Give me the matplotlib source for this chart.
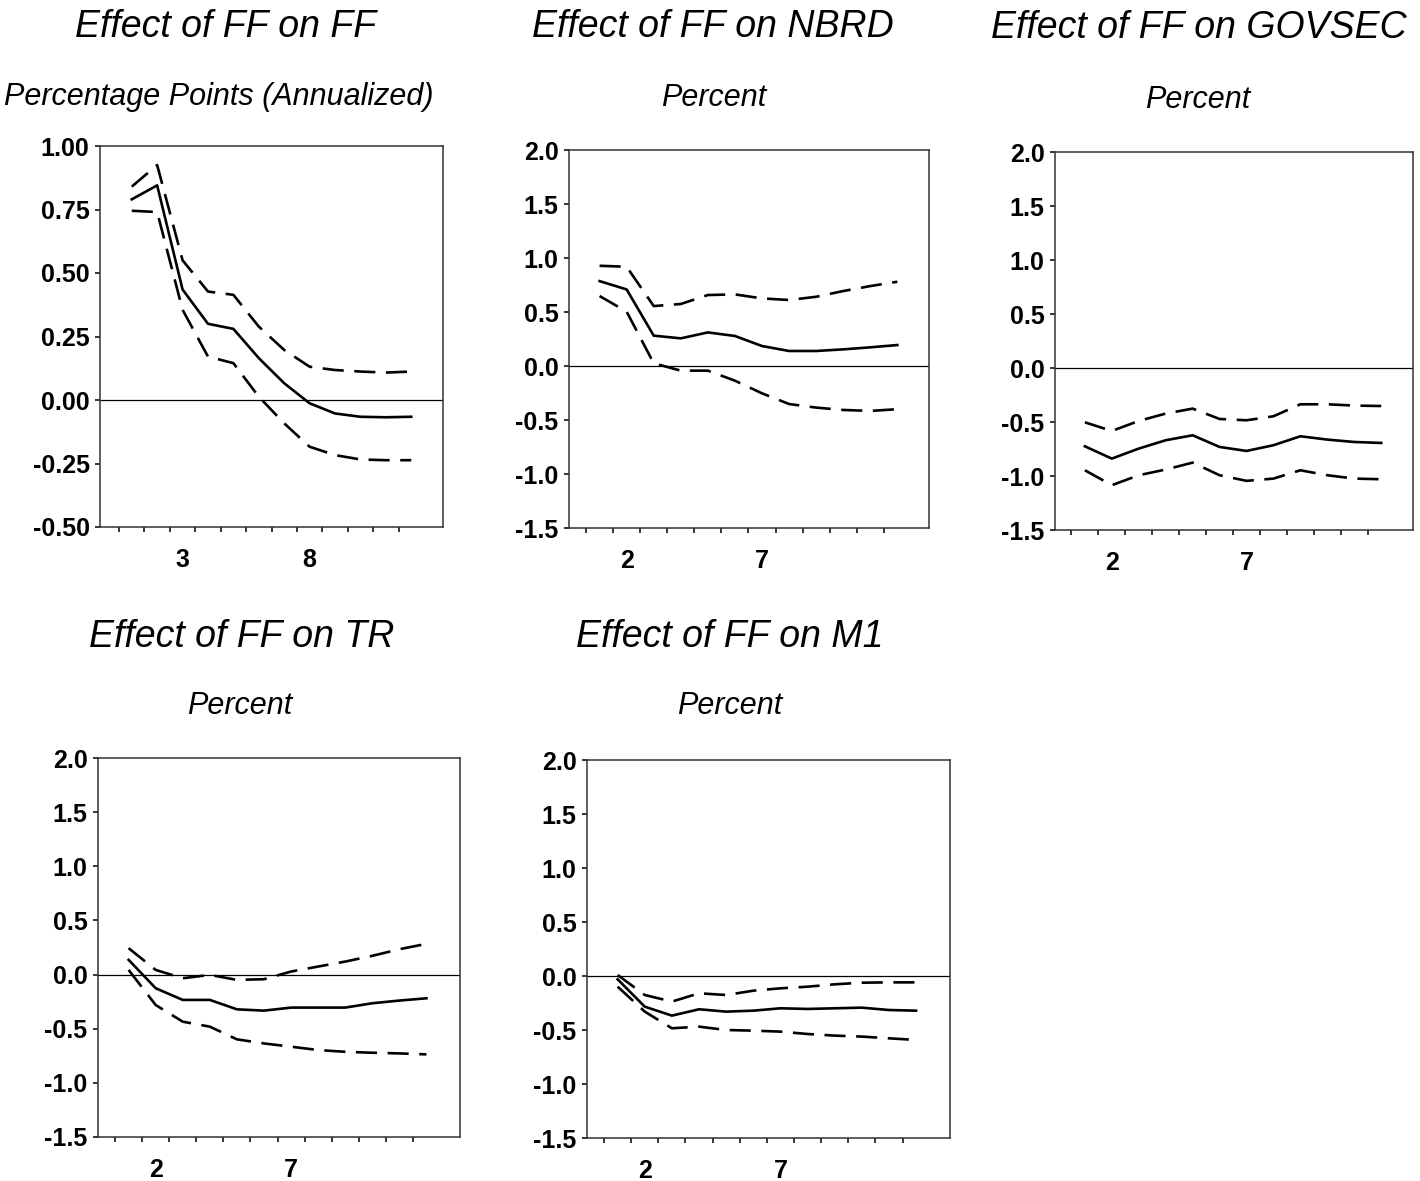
import numpy as np
import matplotlib
matplotlib.use("Agg")
import matplotlib.pyplot as plt

plt.rcParams["font.family"] = ["Liberation Sans", "DejaVu Sans"]

horizon = np.arange(1, 13)

# impulse responses to a federal funds shock, with upper and lower bands
ff_mid = [0.79, 0.845, 0.435, 0.30, 0.28, 0.165, 0.066, -0.013, -0.053, -0.066, -0.068, -0.066]
ff_hi = [0.84, 0.925, 0.55, 0.427, 0.414, 0.289, 0.197, 0.131, 0.118, 0.112, 0.108, 0.112]
ff_lo = [0.745, 0.74, 0.355, 0.171, 0.145, 0.013, -0.092, -0.184, -0.217, -0.234, -0.237, -0.237]

nbrd_mid = [0.786, 0.709, 0.281, 0.256, 0.311, 0.278, 0.185, 0.139, 0.139, 0.154, 0.173, 0.194]
nbrd_hi = [0.928, 0.919, 0.555, 0.574, 0.657, 0.663, 0.626, 0.611, 0.641, 0.694, 0.74, 0.78]
nbrd_lo = [0.648, 0.503, 0.025, -0.043, -0.043, -0.136, -0.253, -0.352, -0.385, -0.407, -0.416, -0.40]

govsec_mid = [-0.725, -0.839, -0.746, -0.669, -0.623, -0.731, -0.768, -0.715, -0.632, -0.663, -0.685, -0.694]
govsec_hi = [-0.503, -0.583, -0.49, -0.422, -0.376, -0.472, -0.484, -0.447, -0.336, -0.336, -0.348, -0.352]
govsec_lo = [-0.947, -1.085, -0.993, -0.94, -0.876, -0.993, -1.045, -1.024, -0.947, -0.993, -1.024, -1.03]

tr_mid = [0.136, -0.126, -0.234, -0.234, -0.321, -0.333, -0.305, -0.305, -0.305, -0.265, -0.24, -0.219]
tr_hi = [0.244, 0.043, -0.034, -0.003, -0.049, -0.043, 0.028, 0.074, 0.12, 0.173, 0.234, 0.284]
tr_lo = [0.043, -0.281, -0.435, -0.481, -0.598, -0.636, -0.666, -0.697, -0.713, -0.722, -0.728, -0.737]

m1_mid = [-0.031, -0.284, -0.367, -0.308, -0.33, -0.321, -0.299, -0.305, -0.299, -0.293, -0.315, -0.321]
m1_hi = [0.009, -0.176, -0.237, -0.16, -0.176, -0.136, -0.114, -0.099, -0.077, -0.062, -0.059, -0.059]
m1_lo = [-0.099, -0.33, -0.484, -0.469, -0.5, -0.506, -0.515, -0.537, -0.552, -0.561, -0.577, -0.592]

pct_ticks = [-1.5, -1.0, -0.5, 0.0, 0.5, 1.0, 1.5, 2.0]
pp_ticks = [-0.50, -0.25, 0.00, 0.25, 0.50, 0.75, 1.00]

W, H = 1420, 1181
fig = plt.figure(figsize=(W / 100, H / 100), dpi=100)


def box(l, r, t, b):
    return [l / W, 1 - b / H, (r - l) / W, (b - t) / H]


panels = [
    dict(rect=box(100, 443, 146, 527), xlim=(-0.25, 13.25), lab=[3, 8],
         mid=ff_mid, hi=ff_hi, lo=ff_lo, yt=pp_ticks, fmt="{:.2f}",
         title="Effect of FF on FF", tpos=(226, 27),
         sub="Percentage Points (Annualized)", spos=(219, 97)),
    dict(rect=box(569, 929, 150, 528), xlim=(-0.13, 13.17), lab=[2, 7],
         mid=nbrd_mid, hi=nbrd_hi, lo=nbrd_lo, yt=pct_ticks, fmt="{:.1f}",
         title="Effect of FF on NBRD", tpos=(713, 27),
         sub="Percent", spos=(714, 98)),
    dict(rect=box(1055, 1413, 152, 530), xlim=(-0.11, 13.18), lab=[2, 7],
         mid=govsec_mid, hi=govsec_hi, lo=govsec_lo, yt=pct_ticks, fmt="{:.1f}",
         title="Effect of FF on GOVSEC", tpos=(1199, 28),
         sub="Percent", spos=(1198, 100)),
    dict(rect=box(98, 460, 758, 1137), xlim=(-0.13, 13.24), lab=[2, 7],
         mid=tr_mid, hi=tr_hi, lo=tr_lo, yt=pct_ticks, fmt="{:.1f}",
         title="Effect of FF on TR", tpos=(242, 637),
         sub="Percent", spos=(240, 706)),
    dict(rect=box(587, 950, 760, 1138), xlim=(-0.13, 13.25), lab=[2, 7],
         mid=m1_mid, hi=m1_hi, lo=m1_lo, yt=pct_ticks, fmt="{:.1f}",
         title="Effect of FF on M1", tpos=(730, 637),
         sub="Percent", spos=(730, 706)),
]

for p in panels:
    ax = fig.add_axes(p["rect"])
    ax.plot(horizon, p["mid"], color="black", lw=1.9)
    for band in (p["hi"], p["lo"]):
        ax.plot(horizon, band, color="black", lw=1.9, dashes=(8, 4))
    ax.axhline(0, color="black", lw=0.9)

    ax.set_xlim(*p["xlim"])
    ax.set_ylim(p["yt"][0], p["yt"][-1])
    ax.set_yticks(p["yt"])
    ax.set_yticklabels([p["fmt"].format(v) for v in p["yt"]])
    ax.set_xticks(p["lab"])
    ax.set_xticklabels([str(v) for v in p["lab"]])
    ax.set_xticks(np.arange(0.5, 12, 1), minor=True)

    ax.tick_params(axis="x", which="major", length=0, pad=15, labelsize=18)
    ax.tick_params(axis="x", which="minor", length=3.5, width=1.1, direction="out")
    ax.tick_params(axis="y", which="major", length=3.5, width=1.1, direction="out",
                   pad=4, labelsize=18)
    for lbl in ax.get_xticklabels() + ax.get_yticklabels():
        lbl.set_fontweight("bold")
    for s in ax.spines.values():
        s.set_linewidth(1.1)
        s.set_color("#333333")

    fig.text(p["tpos"][0] / W, 1 - p["tpos"][1] / H, p["title"], fontsize=27,
             style="italic", ha="center", va="center")
    fig.text(p["spos"][0] / W, 1 - p["spos"][1] / H, p["sub"], fontsize=22,
             style="italic", ha="center", va="center")

fig.savefig("out.png", dpi=100)
